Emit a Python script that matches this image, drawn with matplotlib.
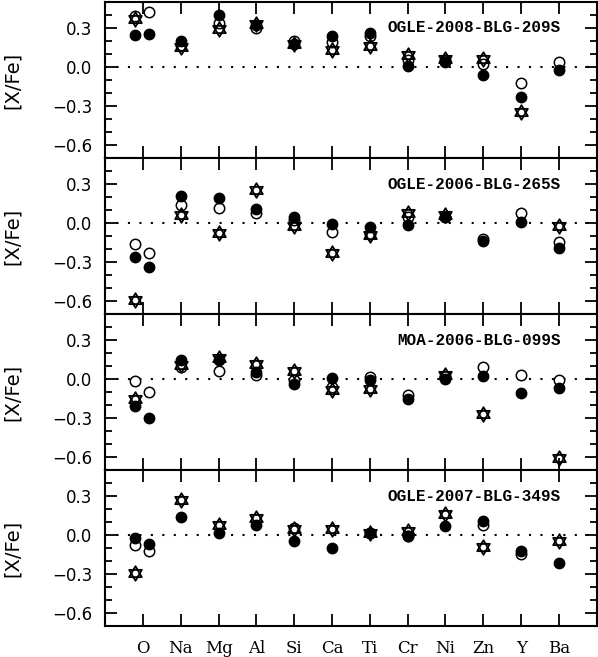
#!/usr/bin/env python3
"""
Abundance ratios [X/Fe] for four microlensed bulge dwarfs, one panel per star.
"""

import matplotlib
matplotlib.use("Agg")
import matplotlib.pyplot as plt
import numpy as np
from matplotlib.path import Path
from matplotlib.ticker import MultipleLocator

nan = np.nan

# element labels and the x slots used (O has two lines, plotted side by side)
elements = ['O', 'Na', 'Mg', 'Al', 'Si', 'Ca', 'Ti', 'Cr', 'Ni', 'Zn', 'Y', 'Ba']
x_slots = [0.8, 1.15, 2, 3, 4, 5, 6, 7, 8, 9, 10, 11, 12]

stars = ['OGLE-2008-BLG-209S', 'OGLE-2006-BLG-265S',
         'MOA-2006-BLG-099S', 'OGLE-2007-BLG-349S']

# columns: O(a), O(b), Na, Mg, Al, Si, Ca, Ti, Cr, Ni, Zn, Y, Ba
filled_209 = [0.245, 0.25, 0.20, 0.40, 0.32, 0.18, 0.235, 0.26, 0.01, 0.04, -0.06, -0.23, -0.02]
open_209 = [0.39, 0.42, 0.17, 0.34, 0.30, 0.20, 0.19, 0.24, 0.05, 0.05, 0.02, -0.12, 0.04]
hexa_209 = [0.37, nan, 0.15, 0.29, 0.33, 0.18, 0.13, 0.16, 0.09, 0.06, 0.065, -0.35, nan]

filled_265 = [-0.265, -0.335, 0.205, 0.19, 0.11, 0.05, -0.005, -0.03, -0.015, 0.045, -0.14, 0.005, -0.19]
open_265 = [-0.16, -0.23, 0.14, 0.115, 0.08, 0.02, -0.07, -0.085, 0.05, 0.05, -0.12, 0.08, -0.145]
hexa_265 = [-0.59, nan, 0.06, -0.075, 0.255, -0.025, -0.23, -0.095, 0.08, 0.06, nan, nan, -0.025]

filled_099 = [-0.21, -0.30, 0.15, 0.145, 0.055, -0.04, 0.005, -0.01, -0.155, 0.0, 0.02, -0.11, -0.065]
open_099 = [-0.015, -0.10, 0.09, 0.06, 0.03, -0.01, -0.06, 0.015, -0.125, 0.02, 0.09, 0.035, -0.01]
hexa_099 = [-0.155, nan, 0.105, 0.165, 0.115, 0.065, -0.085, -0.075, nan, 0.03, -0.27, nan, -0.605]

filled_349 = [-0.025, -0.07, 0.14, 0.015, 0.08, -0.045, -0.10, 0.015, -0.01, 0.07, 0.105, -0.12, -0.215]
open_349 = [-0.075, -0.12, nan, nan, nan, 0.055, nan, 0.015, -0.01, nan, 0.08, -0.145, nan]
hexa_349 = [-0.29, nan, 0.27, 0.08, 0.135, 0.045, 0.045, 0.015, 0.03, 0.165, -0.09, nan, -0.045]

filled_sets = [filled_209, filled_265, filled_099, filled_349]
open_sets = [open_209, open_265, open_099, open_349]
hexa_sets = [hexa_209, hexa_265, hexa_099, hexa_349]

# star of David marker: two overlapping triangles
s = np.sqrt(3) / 2
verts = [(0, 1), (-s, -0.5), (s, -0.5), (0, 0),
         (0, -1), (s, 0.5), (-s, 0.5), (0, 0)]
codes = [Path.MOVETO, Path.LINETO, Path.LINETO, Path.CLOSEPOLY] * 2
hexagram = Path(verts, codes)

fig, axes = plt.subplots(4, 1, figsize=(5.98, 6.57), dpi=100, sharex=True)
fig.subplots_adjust(left=0.1756, right=0.998, top=0.997, bottom=0.047, hspace=0)

for i, ax in enumerate(axes):
    ax.axhline(0, color='k', lw=1.5, linestyle=(0, (1, 4.5)), zorder=1)
    ax.plot(x_slots, open_sets[i], 'o', ms=7.5, mfc='white', mec='k', mew=1.1,
            ls='none', zorder=2)
    ax.plot(x_slots, filled_sets[i], 'o', ms=7.5, mfc='k', mec='k', mew=1.0,
            ls='none', zorder=3)
    ax.plot(x_slots, hexa_sets[i], marker=hexagram, ms=10.5, mfc='none', mec='k',
            mew=1.3, ls='none', zorder=4)

    ax.text(12.05, 0.3, stars[i], ha='right', va='center',
            family='Liberation Mono', weight='bold', fontsize=11.5)

    ax.set_xlim(0, 13)
    ax.set_ylim(-0.7, 0.5)
    ax.set_xticks(range(1, 13))
    ax.set_yticks([-0.6, -0.3, 0.0, 0.3])
    ax.set_yticklabels(['\u22120.6', '\u22120.3', '0.0', '0.3'],
                       family='DejaVu Sans', fontsize=12)
    ax.yaxis.set_minor_locator(MultipleLocator(0.1))
    ax.tick_params(which='both', direction='in', top=True, right=True,
                   width=1.3, pad=9)
    ax.tick_params(which='major', length=8.5)
    ax.tick_params(which='minor', length=5)
    for sp in ax.spines.values():
        sp.set_linewidth(1.5)

    # y label centred on each panel
    box = ax.get_position()
    fig.text(12 / 598, (box.y0 + box.y1) / 2, '[X/Fe]', rotation=90,
             ha='center', va='center', family='DejaVu Sans', fontsize=14)

axes[-1].set_xticklabels(elements, family='DejaVu Serif', fontsize=12)
axes[-1].tick_params(axis='x', pad=10)

fig.savefig('out.png', dpi=100)
plt.close(fig)
